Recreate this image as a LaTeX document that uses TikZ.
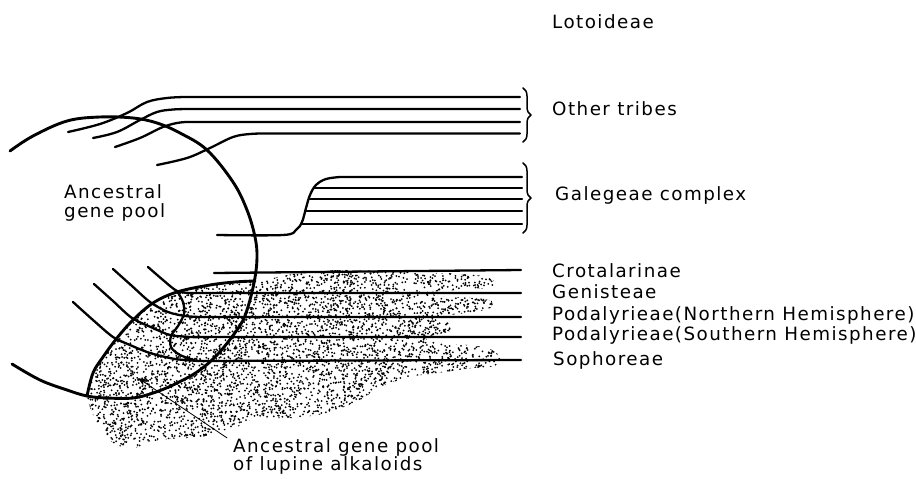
\documentclass[tikz,border=0pt]{standalone}
\usepackage{fontspec}
\setmainfont[LetterSpace=8]{DejaVu Sans}
\usetikzlibrary{decorations.pathreplacing,arrows.meta}
\begin{document}
\begin{tikzpicture}[x=1pt,y=-1pt,line cap=round,line join=round,
  heavy/.style={line width=2.9pt},
  branch/.style={line width=2.3pt},
  lbl/.style={anchor=base west,inner sep=0pt,font=\fontsize{18.3}{22}\selectfont},
  brc/.style={decorate,decoration={brace,amplitude=8pt},line width=1.5pt}]
\useasboundingbox (0,0) rectangle (916,479);

% stippled region (lupine alkaloid lineages)
\begin{scope}
\clip plot[smooth cycle,tension=0.5] coordinates {(87,396) (93,373) (103,357) (117,338) (133,320) (153,303) (177,292) (210,285) (235,282) (257,281) (273,278) (300,273) (340,270) (390,271) (440,273) (475,275) (490,278) (495,283) (488,288) (460,290) (430,292) (440,296) (475,298) (492,301) (490,308) (475,312) (450,315) (440,319) (450,324) (450,331) (440,334) (425,338) (445,344) (470,345) (490,349) (500,357) (495,366) (473,368) (445,372) (410,377) (380,387) (360,400) (327,413) (293,418) (267,418) (250,420) (237,427) (217,432) (200,437) (160,440) (133,448) (113,443) (97,423)};
\pgfmathsetseed{11}
\foreach \i in {1,...,6500}{\fill ({85+417*rnd},{268+182*rnd}) circle (1.0);}
\end{scope}

% ancestral gene pool (large circle)
\draw[heavy] plot[smooth,tension=0.6] coordinates {(10,151) (33,136) (67,121) (100,117) (133,118) (157,123) (180,133) (207,150) (233,182) (247,210) (255,237) (257,258) (254,283) (246,313) (237,330) (217,355) (197,372) (173,385) (153,393) (133,398) (107,398) (87,396) (67,390) (40,380) (12,364)};
% lupine pool outline
\draw[heavy] plot[smooth,tension=0.6] coordinates {(87,396) (93,373) (103,357) (117,338) (133,320) (153,303) (177,292) (210,285) (235,282) (255,281)};

% other tribes
\draw[branch] plot[smooth,tension=0.6] coordinates {(68,132) (100,124) (127,113) (147,102) (167,98) (185,97)} -- (520,97);
\draw[branch] plot[smooth,tension=0.6] coordinates {(93,138) (117,132) (140,120) (157,112) (173,109.5) (190,109)} -- (520,109);
\draw[branch] plot[smooth,tension=0.6] coordinates {(115,147) (140,138) (163,127) (180,122.5) (195,122)} -- (520,122);
\draw[branch] plot[smooth,tension=0.6] coordinates {(157,165) (187,158) (210,148) (233,137) (250,134) (265,133.5)} -- (520,133.5);

% Galegeae complex
\draw[branch] plot[smooth,tension=0.6] coordinates {(217,235) (283,235) (296,230) (302,222) (306,208) (310,195) (316,185) (326,179) (340,177)} -- (522,177);
\draw[branch] (314,188) -- (522,188);
\draw[branch] (309,199) -- (522,199);
\draw[branch] (305,211) -- (522,211);
\draw[branch] (301,224) -- (522,224);

% lupine lineages
\draw[branch] (214,273) -- (521,270);
\draw[branch] plot[smooth,tension=0.5] coordinates {(148,267) (163,280) (177,291) (190,293)} -- (521,293);
\draw[branch] plot[smooth,tension=0.5] coordinates {(113,269) (132,286) (150,302) (168,312) (185,316) (200,317)} -- (521,317);
\draw[branch] plot[smooth,tension=0.5] coordinates {(94,284) (113,301) (132,318) (153,328) (170,335) (190,337) (200,337)} -- (521,337);
\draw[branch] plot[smooth,tension=0.5] coordinates {(73,302) (93,320) (113,337) (130,345) (150,353) (175,359) (200,361)} -- (521,360);
\draw[branch] plot[smooth,tension=0.5] coordinates {(177,291) (183,302) (184,314) (178,326) (171,336) (171,347) (180,355) (197,361)};

% braces
\draw[brc] (523,88) -- (523,142);
\draw[brc] (523,163) -- (523,233);

% labels
\node[lbl] (lot) at (552,28) {Lotoideae};
\node[lbl] (oth) at (552,115) {Other tribes};
\node[lbl] (gal) at (555,200) {Galegeae complex};
\node[lbl] (cro) at (552,277) {Crotalarinae};
\node[lbl] (gen) at (552,298) {Genisteae};
\node[lbl] (pdn) at (552,320) {Podalyrieae(Northern Hemisphere)};
\node[lbl] (pds) at (552,340) {Podalyrieae(Southern Hemisphere)};
\node[lbl] (sop) at (553,365) {Sophoreae};
\node[lbl] (agA) at (64,198) {Ancestral};
\node[lbl] (agB) at (64,217) {gene pool};
\node[lbl] (lupA) at (233,452) {Ancestral gene pool};
\node[lbl] (lupB) at (233,470) {of lupine alkaloids};

\coordinate (arrtip) at (138,378);
\draw[line width=0.8pt,-{Stealth[length=9pt,width=7pt]}] ([xshift=-6pt]lupA.north west) -- (arrtip);
\end{tikzpicture}
\end{document}
